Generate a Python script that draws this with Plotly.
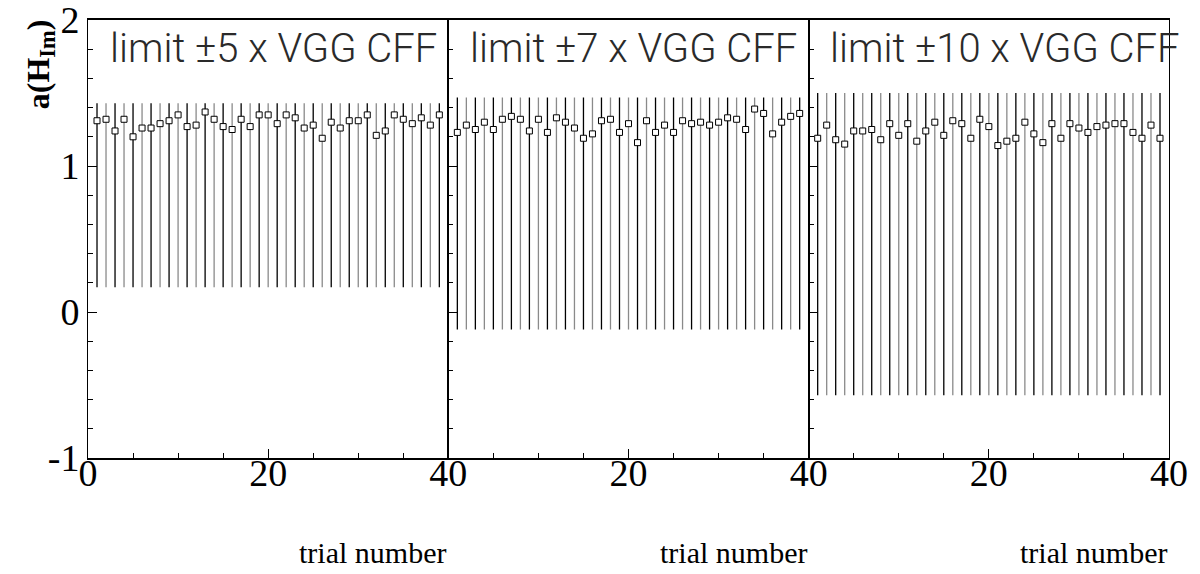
import plotly.graph_objects as go
from plotly.subplots import make_subplots

trials = list(range(1, 40))

panel_labels = ["limit \u00b15 x VGG CFF", "limit \u00b17 x VGG CFF", "limit \u00b110 x VGG CFF"]

vals_5 = [1.31, 1.32, 1.24, 1.32, 1.20, 1.26, 1.26, 1.29, 1.31, 1.35,
          1.27, 1.28, 1.37, 1.32, 1.27, 1.25, 1.32, 1.27, 1.35, 1.35,
          1.29, 1.35, 1.33, 1.26, 1.28, 1.19, 1.30, 1.26, 1.31, 1.31,
          1.35, 1.21, 1.24, 1.35, 1.32, 1.29, 1.33, 1.28, 1.35]
vals_7 = [1.23, 1.28, 1.25, 1.30, 1.25, 1.32, 1.34, 1.32, 1.24, 1.32,
          1.23, 1.33, 1.30, 1.26, 1.19, 1.22, 1.31, 1.32, 1.23, 1.29,
          1.16, 1.31, 1.23, 1.28, 1.23, 1.31, 1.29, 1.30, 1.28, 1.30,
          1.33, 1.32, 1.25, 1.39, 1.36, 1.22, 1.30, 1.34, 1.36]
vals_10 = [1.19, 1.28, 1.18, 1.15, 1.24, 1.24, 1.25, 1.18, 1.29, 1.21,
           1.29, 1.17, 1.24, 1.30, 1.21, 1.31, 1.29, 1.19, 1.32, 1.27,
           1.14, 1.17, 1.19, 1.30, 1.22, 1.16, 1.29, 1.19, 1.29, 1.26,
           1.23, 1.27, 1.28, 1.29, 1.29, 1.23, 1.19, 1.28, 1.19]

lower_limits = [0.17, -0.12, -0.57]
upper_limits = [1.43, 1.47, 1.50]

x_tick_vals = [[0, 20, 40], [20, 40], [20, 40]]
y_tick_vals = [-1, 0, 1, 2]
y_tick_text = ["-1", "0", "1", "2"]

all_vals = [vals_5, vals_7, vals_10]

fig = make_subplots(rows=1, cols=3, shared_yaxes=False, horizontal_spacing=0)

bar_colors = ["#000000", "#8a8a8a"]

for p, vals in enumerate(all_vals):
    col = p + 1
    for parity in (0, 1):
        xs = [t for i, t in enumerate(trials) if i % 2 == parity]
        ys = [v for i, v in enumerate(vals) if i % 2 == parity]
        up = [upper_limits[p] - v for v in ys]
        dn = [v - lower_limits[p] for v in ys]
        fig.add_trace(go.Scatter(
            x=xs, y=ys, mode="markers",
            marker=dict(symbol="square", size=6, color="white",
                        line=dict(color="black", width=1)),
            error_y=dict(type="data", symmetric=False, array=up, arrayminus=dn,
                         color=bar_colors[parity], thickness=1.3, width=0),
            showlegend=False, hoverinfo="skip"), row=1, col=col)

axis_font = dict(family="Liberation Serif, Times New Roman, serif", size=38, color="black")

for p in range(3):
    col = p + 1
    fig.update_xaxes(range=[0, 40], tickvals=x_tick_vals[p], ticks="inside", ticklen=9,
                     tickcolor="black", showline=True, linecolor="black", linewidth=1.5,
                     mirror=True, showgrid=False, zeroline=False, tickfont=axis_font,
                     automargin=False, ticklabelstandoff=-19, ticklabeloverflow="allow",
                     minor=dict(dtick=5, ticks="inside", ticklen=5, tickcolor="black", showgrid=False),
                     row=1, col=col)
    fig.update_yaxes(range=[-1, 2], tickvals=y_tick_vals, ticktext=y_tick_text,
                     showticklabels=(p == 0), ticks="inside", ticklen=9,
                     tickcolor="black", showline=True, linecolor="black", linewidth=1,
                     mirror=True, showgrid=False, zeroline=False, tickfont=axis_font,
                     automargin=False, ticklabeloverflow="allow",
                     minor=dict(dtick=0.2, ticks="inside", ticklen=5, tickcolor="black", showgrid=False),
                     row=1, col=col)

annotations = []
for p in range(3):
    xref = "x domain" if p == 0 else f"x{p + 1} domain"
    annotations.append(dict(
        text=panel_labels[p], xref=xref, yref="paper", x=0.055, y=0.936,
        xanchor="left", yanchor="middle", showarrow=False,
        font=dict(family="Roboto, Liberation Sans Narrow, sans-serif",
                  size=40, color="#2a2a2a", weight=300)))
    annotations.append(dict(
        text="trial number", xref=xref, yref="paper", x=1.0, y=-0.215,
        xanchor="right", yanchor="middle", showarrow=False,
        font=dict(family="Liberation Serif, Times New Roman, serif", size=30, color="black")))

annotations.append(dict(
    text="<b>a(H<sub>Im</sub>)</b>", xref="paper", yref="paper", x=-0.044, y=0.9,
    xanchor="center", yanchor="middle", textangle=-90, showarrow=False,
    font=dict(family="Liberation Serif, Times New Roman, serif", size=32, color="black")))

fig.update_layout(
    width=1200, height=574,
    margin=dict(l=88, r=31, t=20, b=116, autoexpand=False),
    paper_bgcolor="white", plot_bgcolor="white",
    annotations=annotations,
)

# remove the default page margin so the figure fills the window from its top-left corner
fig.write_html("out.html", config={"displayModeBar": False},
               post_script="document.body.style.margin='0';")
